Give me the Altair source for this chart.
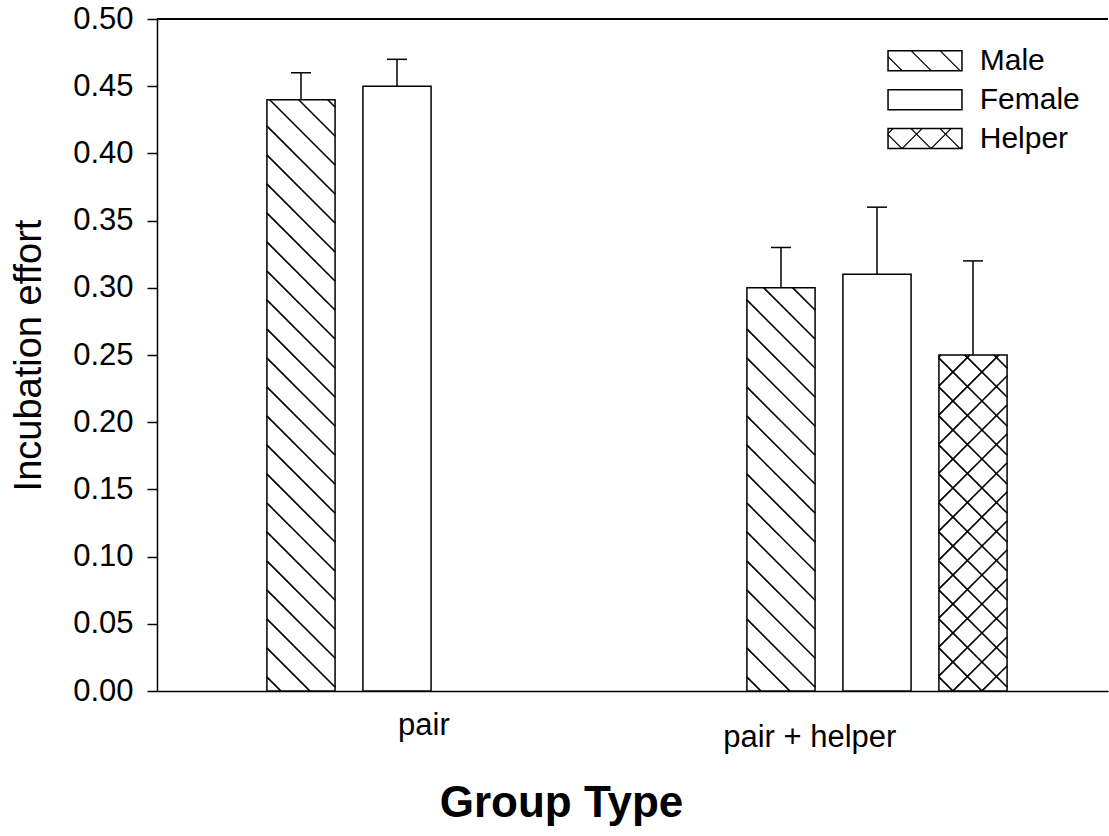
import math
import altair as alt
import pandas as pd

# ---------------- data ----------------
members = ["Male", "Female", "Male", "Female", "Helper"]
group_index = [0, 0, 1, 1, 1]
slot_index = [0, 1, 0, 1, 2]
values = [0.44, 0.45, 0.30, 0.31, 0.25]
errors = [0.02, 0.02, 0.03, 0.05, 0.07]

group_labels = ["pair", "pair + helper"]
group_label_x = [2.78, 6.80]
group_label_y = [-0.0327, -0.0414]

legend_names = ["Male", "Female", "Helper"]
legend_y = [0.469, 0.440, 0.411]

y_ticks = [0.00, 0.05, 0.10, 0.15, 0.20, 0.25, 0.30, 0.35, 0.40, 0.45, 0.50]

hatch_kinds = {"Male": ["back"], "Female": [], "Helper": ["back", "fwd"]}

# ---------------- layout ----------------
W, H = 951, 672
PX_X = 96.0
X_MAX = W / PX_X
Y_MAX = 0.5
PX_Y = H / Y_MAX
FIRST = 1.5
GROUP_STEP = 5.0
SLOT_STEP = 1.0
BAR_W = 0.71
CAP_HALF = 0.104
LEG_X0, LEG_X1 = 7.615, 8.385
LEG_HALF = 0.00744
LEG_TEXT_X = 8.57
SPACING = 29.0
PHASE = 14.0
FONT = "Liberation Sans, Arial, Helvetica, sans-serif"

centers = [FIRST + GROUP_STEP * g + SLOT_STEP * s for g, s in zip(group_index, slot_index)]
bars = pd.DataFrame({
    "member": members,
    "value": values,
    "err": errors,
    "center": centers,
})
bars["x0"] = bars["center"] - BAR_W / 2
bars["x1"] = bars["center"] + BAR_W / 2
bars["base"] = 0.0
bars["top"] = bars["value"] + bars["err"]
bars["c0"] = bars["center"] - CAP_HALF
bars["c1"] = bars["center"] + CAP_HALF

legend = pd.DataFrame({"member": legend_names, "ymid": legend_y})
legend["x0"] = LEG_X0
legend["x1"] = LEG_X1
legend["y0"] = legend["ymid"] - LEG_HALF
legend["y1"] = legend["ymid"] + LEG_HALF
legend["tx"] = LEG_TEXT_X

labels = pd.DataFrame({"label": group_labels, "x": group_label_x, "y": group_label_y})


def hatch(x0u, x1u, y0u, y1u, kinds):
    X0, X1 = x0u * PX_X, x1u * PX_X
    Y0, Y1 = y0u * PX_Y, y1u * PX_Y
    w, h = X1 - X0, Y1 - Y0
    segs = []
    if "back" in kinds:
        c = PHASE % SPACING
        while c < w + h:
            ua, ub = max(0.0, c - h), min(w, c)
            if ub - ua > 0.3:
                segs.append((ua, c - ua, ub, c - ub))
            c += SPACING
    if "fwd" in kinds:
        kmin = math.ceil((-h - PHASE) / SPACING)
        kmax = math.floor((w - PHASE) / SPACING)
        for k in range(kmin, kmax + 1):
            d = -(PHASE + SPACING * k)
            ua, ub = max(0.0, -d), min(w, h - d)
            if ub - ua > 0.3:
                segs.append((ua, ua + d, ub, ub + d))
    rows = []
    for ua, va, ub, vb in segs:
        rows.append({
            "hx": (X0 + ua) / PX_X, "hy": (Y0 + va) / PX_Y,
            "hx2": (X0 + ub) / PX_X, "hy2": (Y0 + vb) / PX_Y,
        })
    return rows


hatch_rows = []
for r in bars.itertuples():
    hatch_rows += hatch(r.x0, r.x1, r.base, r.value, hatch_kinds[r.member])
for r in legend.itertuples():
    hatch_rows += hatch(r.x0, r.x1, r.y0, r.y1, hatch_kinds[r.member])
hatch_df = pd.DataFrame(hatch_rows, columns=["hx", "hy", "hx2", "hy2"])

# ---------------- scales ----------------
xs = alt.Scale(domain=[0, X_MAX], nice=False, zero=False)
ys = alt.Scale(domain=[0, Y_MAX], nice=False, zero=False)

x_axis = alt.Axis(
    ticks=False, labels=False, grid=False,
    domainColor="black", domainWidth=1.5,
    title="Group Type", titleFont=FONT, titleFontSize=44, titleFontWeight="bold",
    titleColor="black", titleX=404, titleY=125, titleAlign="center",
    titleBaseline="alphabetic",
)
y_axis = alt.Axis(
    values=y_ticks, format=".2f", grid=False,
    labelFont=FONT, labelFontSize=31, labelColor="black", labelPadding=14,
    tickSize=10, tickColor="black", tickWidth=1.5,
    domainColor="black", domainWidth=1.5,
    title="Incubation effort", titleFont=FONT, titleFontSize=38,
    titleFontWeight="normal", titleColor="black",
    titleX=-117, titleY=H / 2, titleAngle=270, titleAlign="center",
    titleBaseline="alphabetic",
)

bar_layer = alt.Chart(bars).mark_rect(fill="white", stroke="black", strokeWidth=1.5).encode(
    x=alt.X("x0:Q", scale=xs, axis=x_axis),
    x2="x1:Q",
    y=alt.Y("base:Q", scale=ys, axis=y_axis),
    y2="value:Q",
)

hatch_layer = alt.Chart(hatch_df).mark_rule(color="black", strokeWidth=1.3).encode(
    x=alt.X("hx:Q", scale=xs),
    y=alt.Y("hy:Q", scale=ys),
    x2="hx2:Q",
    y2="hy2:Q",
)

err_layer = alt.Chart(bars).mark_rule(color="black", strokeWidth=1.5).encode(
    x=alt.X("center:Q", scale=xs),
    y=alt.Y("value:Q", scale=ys),
    y2="top:Q",
)
cap_layer = alt.Chart(bars).mark_rule(color="black", strokeWidth=1.5).encode(
    x=alt.X("c0:Q", scale=xs),
    x2="c1:Q",
    y=alt.Y("top:Q", scale=ys),
)

top_line = alt.Chart(bars).mark_rule(color="black", strokeWidth=1.5).encode(
    y=alt.datum(Y_MAX, scale=ys),
)

legend_box = alt.Chart(legend).mark_rect(fill="white", stroke="black", strokeWidth=1.5).encode(
    x=alt.X("x0:Q", scale=xs),
    x2="x1:Q",
    y=alt.Y("y0:Q", scale=ys),
    y2="y1:Q",
)
legend_text = alt.Chart(legend).mark_text(
    align="left", baseline="middle", font=FONT, fontSize=30, color="black"
).encode(
    x=alt.X("tx:Q", scale=xs),
    y=alt.Y("ymid:Q", scale=ys),
    text="member:N",
)

label_layer = alt.Chart(labels).mark_text(
    align="center", baseline="alphabetic", font=FONT, fontSize=31, color="black"
).encode(
    x=alt.X("x:Q", scale=xs),
    y=alt.Y("y:Q", scale=ys),
    text="label:N",
)

chart = alt.layer(
    bar_layer, hatch_layer, err_layer, cap_layer, top_line,
    legend_box, hatch_layer.properties(), legend_text, label_layer,
).properties(
    width=W, height=H,
    padding={"left": 157, "top": 19, "right": 1, "bottom": 145},
    autosize=alt.AutoSizeParams(type="none"),
    background="white",
).configure_view(stroke=None)

chart.save("out.html", embed_options={"renderer": "svg", "actions": False})
